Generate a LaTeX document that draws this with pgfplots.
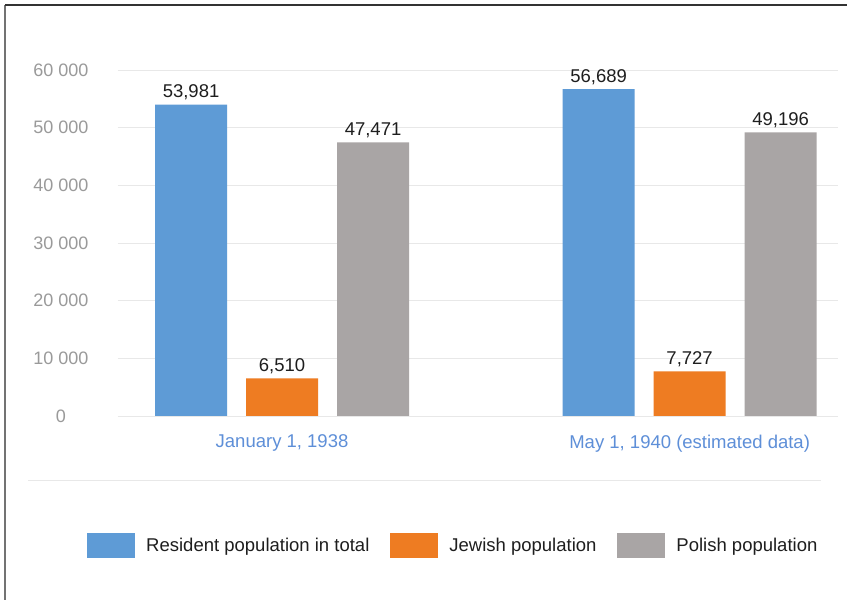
\documentclass[border=0pt]{standalone}
\usepackage{fontspec}
\setmainfont{Liberation Sans}
\usepackage{pgfplots}
\pgfplotsset{compat=1.18}
\definecolor{cblue}{HTML}{5E9BD6}
\definecolor{corange}{HTML}{EE7C22}
\definecolor{cgray}{HTML}{A9A5A5}
\definecolor{catblue}{HTML}{5E8FD8}
\definecolor{tickgray}{HTML}{9A9A9A}
\definecolor{gridgray}{HTML}{E8E8E8}
\definecolor{valblack}{HTML}{1E1E1E}
\begin{document}
\begin{tikzpicture}
\useasboundingbox (0,0) rectangle (847pt,600pt);
\fill[white] (0,0) rectangle (847pt,600pt);
\draw[color=black!55, line width=1.3pt] (5pt,0pt) -- (5pt,595pt);
\draw[color=black!80, line width=1.3pt] (5pt,595pt) -- (847pt,595pt);
\draw[color=gridgray, line width=0.8pt] (28pt,120pt) -- (821pt,120pt);
\begin{axis}[
  at={(118pt,184pt)}, anchor=south west,
  scale only axis, width=720pt, height=346pt,
  xmin=-0.4025, xmax=1.364, ymin=0, ymax=60000,
  ybar=19pt, bar width=72pt,
  axis line style={draw=none}, tick style={draw=none},
  ymajorgrids, major grid style={color=gridgray, line width=0.8pt},
  scaled y ticks=false,
  ytick={0,10000,20000,30000,40000,50000,60000},
  yticklabels={0,10 000,20 000,30 000,40 000,50 000,60 000},
  yticklabel style={anchor=center, xshift=-57pt, color=tickgray, font=\fontsize{18}{20}\selectfont},
  xtick={0,1},
  xticklabels={{January 1, 1938},{May 1, 1940 (estimated data)}},
  xticklabel style={color=catblue, yshift=-11pt, font=\fontsize{18.5}{20}\selectfont},
  /pgf/number format/.cd, 1000 sep={,}, assume math mode=true, /pgfplots/.cd,
  nodes near coords,
  every node near coord/.append style={font=\fontsize{18.5}{20}\selectfont, color=valblack, yshift=1pt},
  clip=false,
  legend columns=3,
  legend image code/.code={\fill[#1,draw=none] (0pt,-12pt) rectangle (48pt,13pt);},
  legend style={at={(-0.043,-0.373)}, anchor=west, draw=none, fill=none, inner sep=0pt,
    font=\fontsize{18.5}{20}\selectfont, text=valblack,
    nodes={inner sep=0pt},
    /tikz/every odd column/.append style={column sep=11pt},
    /tikz/every even column/.append style={column sep=21pt}},
]
\addplot[fill=cblue, draw=none] coordinates {(0,53981) (1,56689)};
\addplot[fill=corange, draw=none] coordinates {(0,6510) (1,7727)};
\addplot[fill=cgray, draw=none] coordinates {(0,47471) (1,49196)};
\legend{Resident population in total, Jewish population, Polish population}
\end{axis}
\end{tikzpicture}
\end{document}
